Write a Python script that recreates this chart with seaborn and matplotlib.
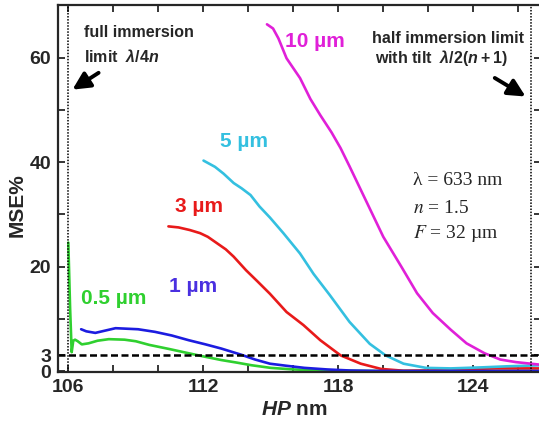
import matplotlib
matplotlib.use("Agg")
import matplotlib.pyplot as plt
from matplotlib import font_manager
import seaborn as sns

# ---- data: MSE% versus half-period HP (nm) for several feature sizes ----
hp_05um = [106.0, 106.08, 106.15, 106.22, 106.3, 106.42, 106.6, 106.9, 107.3, 107.8,
           108.5, 109.0, 109.6, 110.5, 111.35, 112.0, 112.8, 113.5, 114.15, 115.0,
           116.0, 117.0, 118.0, 119.0, 120.0, 122.0, 124.0, 126.0, 127.0]
mse_05um = [24.6, 12.0, 3.6, 5.8, 6.0, 5.7, 5.1, 5.3, 5.8, 6.1,
            6.0, 5.7, 5.0, 4.2, 3.4, 2.8, 2.1, 1.6, 1.1, 0.6,
            0.3, 0.15, 0.05, 0.02, 0.0, 0.0, 0.0, 0.0, 0.0]

hp_1um = [106.57, 106.8, 107.2, 107.6, 108.1, 108.6, 109.1, 109.85, 110.6, 111.35,
          112.1, 112.8, 113.7, 114.3, 114.96, 115.7, 116.5, 117.5, 118.5, 120.0,
          122.0, 124.0, 127.0]
mse_1um = [8.0, 7.6, 7.3, 7.7, 8.2, 8.1, 8.0, 7.5, 6.8, 5.9,
           5.1, 4.3, 3.1, 2.2, 1.4, 1.0, 0.6, 0.3, 0.1, 0.0,
           0.0, 0.0, 0.0]

hp_3um = [110.45, 110.9, 111.4, 111.86, 112.2, 112.6, 113.0, 113.35, 113.9, 114.4,
          114.96, 115.7, 116.45, 117.2, 118.1, 119.0, 119.9, 120.9, 122.0, 123.0,
          124.0, 125.0, 126.0, 127.0]
mse_3um = [27.7, 27.5, 27.0, 26.4, 25.7, 24.5, 23.3, 21.9, 19.3, 17.2,
           14.8, 11.3, 8.8, 5.9, 3.0, 1.4, 0.4, 0.05, 0.1, 0.2,
           0.4, 0.5, 0.5, 0.5]

hp_5um = [112.01, 112.52, 112.9, 113.35, 113.7, 114.1, 114.5, 114.96, 115.56, 116.3,
          116.9, 117.63, 118.5, 119.4, 120.1, 120.9, 121.9, 123.0, 124.4, 125.5, 127.0]
mse_5um = [40.3, 39.1, 37.8, 36.0, 35.0, 33.7, 31.5, 29.4, 26.4, 22.5,
           18.6, 14.5, 9.4, 5.2, 3.0, 1.4, 0.6, 0.5, 0.7, 0.9, 1.1]

hp_10um = [114.83, 115.1, 115.34, 115.7, 116.3, 116.76, 117.2, 117.7, 118.1, 118.5,
           119.3, 120.0, 120.8, 121.5, 122.2, 123.0, 123.7, 124.5, 125.2, 125.9, 127.0]
mse_10um = [66.4, 65.6, 63.7, 59.9, 56.1, 52.1, 49.0, 45.7, 42.7, 39.2,
            32.0, 25.7, 20.0, 14.9, 11.1, 7.9, 5.3, 3.4, 2.2, 1.7, 1.2]

curve_names = ["0.5 µm", "1 µm", "3 µm", "5 µm", "10 µm"]
curve_colors = ["#2fd02f", "#1c1ce0", "#e81a1a", "#34c0e0", "#e020d8"]
label_colors = ["#2fd02f", "#4a30e0", "#e81a1a", "#34c0e0", "#e020d8"]
label_pos = [(108.03, 13.8), (111.54, 16.1), (111.81, 31.6), (113.81, 43.9), (116.96, 63.2)]

x_ticks = [106, 108, 110, 112, 114, 116, 118, 120, 122, 124, 126]
x_ticklabels = ["106", "", "", "112", "", "", "118", "", "", "124", ""]
y_ticks = [0, 3, 10, 20, 30, 40, 50, 60]
y_ticklabels = ["0", "3", "", "20", "", "40", "", "60"]

mse_threshold = 3
full_limit_hp = 106.0
half_limit_hp = 126.55

# ---- style ----
sns.set_style("ticks")
names = {f.name for f in font_manager.fontManager.ttflist}
narrow = "Liberation Sans Narrow" if "Liberation Sans Narrow" in names else "Liberation Sans"
plt.rcParams["font.family"] = ["Liberation Sans", "DejaVu Sans"]
plt.rcParams["mathtext.fontset"] = "custom"
plt.rcParams["mathtext.rm"] = "Liberation Sans:bold"
plt.rcParams["mathtext.bf"] = "Liberation Sans:bold"
plt.rcParams["mathtext.it"] = "Liberation Sans:italic:bold"

fig = plt.figure(figsize=(5.39, 4.24), dpi=100)
ax = fig.add_axes([58 / 539, 52 / 424, 483 / 539, 367 / 424])

series = [(hp_05um, mse_05um), (hp_3um, mse_3um), (hp_5um, mse_5um),
          (hp_10um, mse_10um), (hp_1um, mse_1um)]
order = [0, 2, 3, 4, 1]
for (hp, mse), i in zip(series, order):
    sns.lineplot(x=hp, y=mse, ax=ax, color=curve_colors[i], lw=1.9,
                 estimator=None, sort=False)

for i, name in enumerate(curve_names):
    ax.text(label_pos[i][0], label_pos[i][1], name, color=label_colors[i],
            fontsize=15, fontweight="bold", ha="center", va="center")

# reference lines
ax.axhline(mse_threshold, color="k", lw=1.8, ls=(0, (2.8, 1.4)))
ax.axvline(full_limit_hp, color="k", lw=1.1, ls=(0, (1, 1)))
ax.axvline(half_limit_hp, color="k", lw=1.1, ls=(0, (1, 1)))

# limit annotations
note_font = [narrow, "DejaVu Sans"]
ax.text(106.7, 64.9, "full immersion", fontsize=11.5, fontweight="bold",
        family=note_font, ha="left", va="center")
ax.text(106.7, 60.3, r"limit  $\lambda/4n$", fontsize=11.5, fontweight="bold",
        family=note_font, ha="left", va="center")
ax.annotate("", xy=(106.08, 53.6), xytext=(107.45, 57.4),
            arrowprops=dict(arrowstyle="-|>", color="k", lw=2.8, mutation_scale=26))

ax.text(119.49, 63.7, "half immersion limit", fontsize=11.5, fontweight="bold",
        family=note_font, ha="left", va="center")
ax.text(119.63, 60.0, r"with tilt  $\lambda/2(n+1)$", fontsize=11.5, fontweight="bold",
        family=note_font, ha="left", va="center")
ax.annotate("", xy=(126.43, 52.3), xytext=(124.85, 56.4),
            arrowprops=dict(arrowstyle="-|>", color="k", lw=2.8, mutation_scale=26))

# parameter block
serif = ["Liberation Serif", "DejaVu Serif"]
ax.text(121.32, 36.4, "λ = 633 nm", fontsize=14, fontweight="normal", family=serif,
        ha="left", va="center")
ax.text(121.32, 31.2, "$n$ = 1.5", fontsize=14, fontweight="normal", family=serif,
        math_fontfamily="stix", ha="left", va="center")
ax.text(121.32, 26.4, "$F$ = 32 µm", fontsize=14, fontweight="normal", family=serif,
        math_fontfamily="stix", ha="left", va="center")

# axes
ax.set_xlim(105.542, 127.01)
ax.set_ylim(-0.19, 70.1)
ax.set_xticks(x_ticks)
ax.set_xticklabels(x_ticklabels)
ax.set_yticks(y_ticks)
ax.set_yticklabels(y_ticklabels)
ax.tick_params(direction="in", length=5, width=1.3, top=True, right=True,
               labelsize=14, pad=5)
for lab in ax.get_xticklabels() + ax.get_yticklabels():
    lab.set_fontweight("bold")
for sp in ax.spines.values():
    sp.set_linewidth(1.6)
    sp.set_visible(True)

ax.set_ylabel("MSE%", fontsize=15, fontweight="bold")
ax.yaxis.set_label_coords(-0.064, 0.455)
ax.set_xlabel("$HP$ nm", fontsize=15, fontweight="bold")
ax.xaxis.set_label_coords(0.49, -0.076)

fig.savefig("out.png", dpi=100)
